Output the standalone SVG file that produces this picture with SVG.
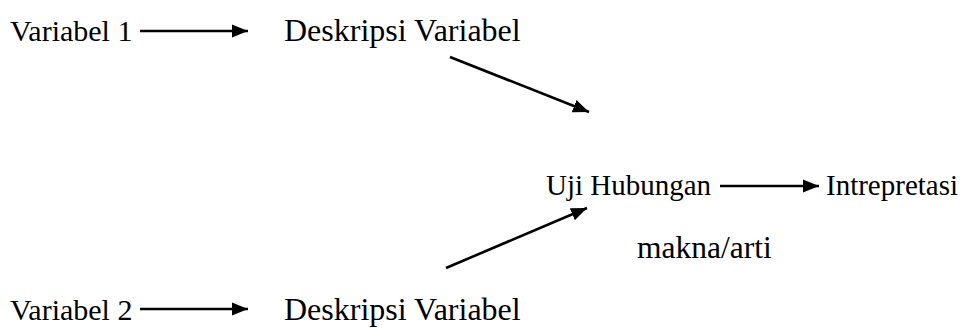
<svg xmlns="http://www.w3.org/2000/svg" width="963" height="331" viewBox="0 0 963 331">
<style>
text{font-family:"Liberation Serif","Times New Roman",serif;font-size:30px;fill:#000}
.d{font-size:32px}
.u{font-size:29px}
.m{font-size:31.5px}
.c line{stroke:#000;stroke-width:2.6;marker-end:url(#ah)}
</style>
<defs>
<marker id="ah" markerUnits="userSpaceOnUse" markerWidth="18" markerHeight="14" refX="16" refY="7" orient="auto">
<path d="M0,0.5 L16,7 L0,13.5 Z" fill="#000"/>
</marker>
</defs>
<rect width="963" height="331" fill="#fff"/>
<g id="v1"><text x="10" y="41">Variabel 1</text></g>
<g id="d1"><text class="d" x="284" y="41">Deskripsi Variabel</text></g>
<g id="uji"><text class="u" x="546" y="195">Uji Hubungan</text></g>
<g id="int"><text class="u" x="826" y="195">Intrepretasi</text></g>
<g id="makna"><text class="m" x="637" y="258">makna/arti</text></g>
<g id="v2"><text x="10" y="320">Variabel 2</text></g>
<g id="d2"><text class="d" x="284" y="320">Deskripsi Variabel</text></g>
<g id="connectors" class="c">
<line x1="140" y1="31" x2="248" y2="31"/>
<line x1="140" y1="309" x2="248" y2="309"/>
<line x1="720" y1="186" x2="819" y2="186"/>
<line x1="450" y1="57" x2="589" y2="112"/>
<line x1="446" y1="268" x2="587" y2="208"/>
</g>
</svg>
